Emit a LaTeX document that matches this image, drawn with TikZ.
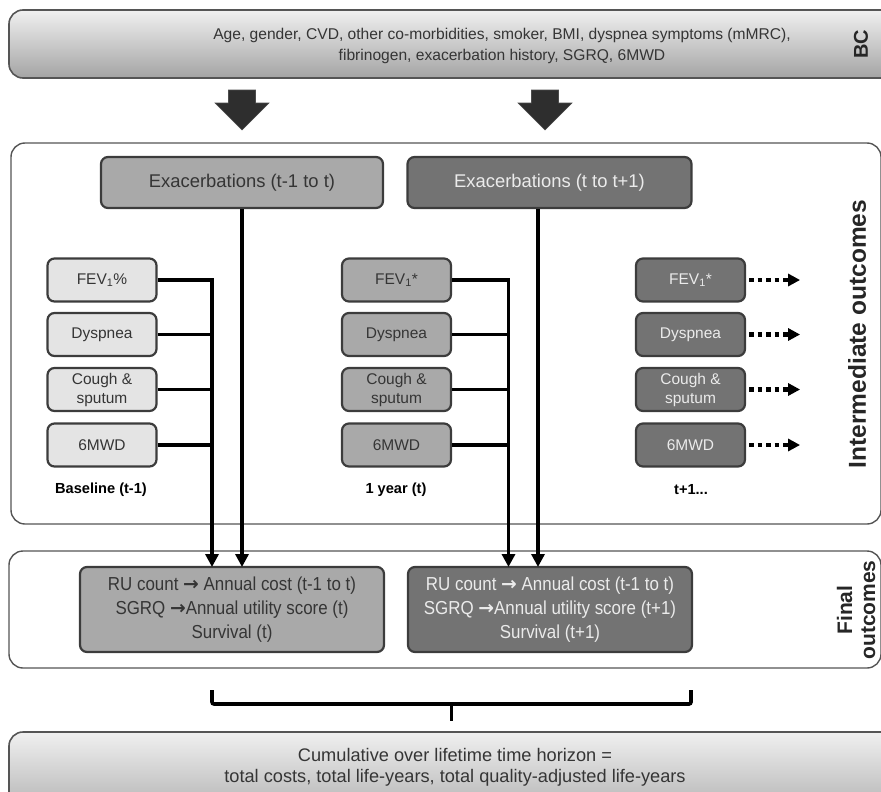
\documentclass[tikz,border=0pt]{standalone}
\usepackage{fontspec}
\setmainfont{Liberation Sans}
\newfontfamily\arrowfont{DejaVu Sans}
\newfontfamily\narrowf[FakeStretch=0.9]{Liberation Sans}
\usetikzlibrary{arrows.meta,calc}
\definecolor{lightbox}{HTML}{E4E4E4}
\definecolor{midbox}{HTML}{A9A9A9}
\definecolor{darkbox}{HTML}{737373}
\definecolor{edgec}{HTML}{3C3C3C}
\definecolor{txtc}{HTML}{353535}
\definecolor{framec}{HTML}{555555}
\definecolor{gradtop}{HTML}{F0F0F0}
\definecolor{gradbot}{HTML}{A4A4A4}
\definecolor{blockc}{HTML}{2E2E2E}
\newcommand{\bigarr}{{\arrowfont\bfseries →}}
\begin{document}
\begin{tikzpicture}[x=1pt,y=-1pt,
  frame/.style={draw=framec, line width=1.4pt, rounded corners=14pt, inner sep=0pt},
  gbox/.style={draw=framec, line width=1.6pt, rounded corners=14pt, inner sep=0pt, top color=gradtop, bottom color=gradbot},
  bx/.style={draw=edgec, line width=2.2pt, rounded corners=7pt, inner sep=0pt, align=center},
  small/.style={bx, minimum width=109pt, minimum height=43pt, font=\fontsize{15.5}{19}\selectfont},
  lightb/.style={fill=lightbox, text=txtc},
  midb/.style={fill=midbox, text=txtc},
  darkb/.style={fill=darkbox, text=white!92!black},
  conn/.style={line width=3.6pt, black},
  tip/.style={-{Triangle[width=13pt,length=13pt]}},
  dots/.style={line width=4.5pt, black, dash pattern=on 4.5pt off 4pt, -{Triangle[width=12pt,length=12pt]}},
  collab/.style={font=\bfseries\fontsize{14.6}{16}\selectfont, text=black},
  sidelab/.style={font=\bfseries\fontsize{24.5}{26}\selectfont, rotate=90, align=center, text=black!85},
  block/.style={fill=blockc, draw=black!70, line width=0.6pt},
  bracec/.style={line width=3.6pt, black, rounded corners=2pt},
  finaltext/.style={font=\narrowf\fontsize{18.8}{24}\selectfont}
]
\clip (0,0) rectangle (881,792);
\useasboundingbox (0,0) rectangle (881,792);

% top BC box
\node[gbox, minimum width=890pt, minimum height=68pt] (bc) at (454,44) {};
\node[align=center, text=txtc, font=\fontsize{15.6}{21}\selectfont] (bctext) at (502,46)
  {Age, gender, CVD, other co-morbidities, smoker, BMI, dyspnea symptoms (mMRC),\\
   fibrinogen, exacerbation history, SGRQ, 6MWD};
\node[font=\bfseries\fontsize{20}{22}\selectfont, rotate=90, text=black!85] (bclab) at (861,44) {BC};

% block arrows
\draw[block] (228.5,90) -- (255.5,90) -- (255.5,103) -- (269,103) -- (242,130) -- (215,103) -- (228.5,103) -- cycle;
\draw[block] (531.5,90) -- (558.5,90) -- (558.5,103) -- (572,103) -- (545,130) -- (518,103) -- (531.5,103) -- cycle;

% frames
\node[frame, minimum width=870pt, minimum height=381pt] (inter) at (446,333.5) {};
\node[frame, minimum width=872pt, minimum height=117pt] (final) at (445,609.5) {};
\node[gbox, minimum width=890pt, minimum height=100pt] (cum) at (454,782) {};

% exacerbation boxes
\node[bx, midb, minimum width=282pt, minimum height=51pt, font=\fontsize{18.4}{20}\selectfont] (e1) at (242,182.5) {Exacerbations (t-1 to t)};
\node[bx, darkb, minimum width=284pt, minimum height=51pt, font=\fontsize{18.4}{20}\selectfont] (e2) at (549.5,182.5) {Exacerbations (t to t+1)};

% column 1
\node[small, lightb] (a1) at (102,280) {FEV\textsubscript{1}\%};
\node[small, lightb] (a2) at (102,334.5) {Dyspnea};
\node[small, lightb] (a3) at (102,389.5) {Cough \&\\sputum};
\node[small, lightb] (a4) at (102,445) {6MWD};
% column 2
\node[small, midb] (b1) at (396.5,280) {FEV\textsubscript{1}*};
\node[small, midb] (b2) at (396.5,334.5) {Dyspnea};
\node[small, midb] (b3) at (396.5,389.5) {Cough \&\\sputum};
\node[small, midb] (b4) at (396.5,445) {6MWD};
% column 3
\node[small, darkb] (c1) at (690.5,280) {FEV\textsubscript{1}*};
\node[small, darkb] (c2) at (690.5,334.5) {Dyspnea};
\node[small, darkb] (c3) at (690.5,389.5) {Cough \&\\sputum};
\node[small, darkb] (c4) at (690.5,445) {6MWD};

% column labels
\node[collab] (l1) at (101,490) {Baseline (t-1)};
\node[collab] (l2) at (396,490) {1 year (t)};
\node[collab] (l3) at (691,490) {t+1...};

% side labels
\node[sidelab] (intlab) at (857,334) {Intermediate outcomes};
\node[sidelab, font=\bfseries\fontsize{21}{23}\selectfont] (finlab) at (856,610) {Final\\outcomes};

% final boxes
\node[bx, midb, finaltext, minimum width=304pt, minimum height=85pt] (f1) at (232,609.5)
  {RU count \bigarr{} Annual cost (t-1 to t)\\SGRQ \bigarr{}Annual utility score (t)\\Survival (t)};
\node[bx, darkb, finaltext, minimum width=284pt, minimum height=85pt] (f2) at (550,609.5)
  {RU count \bigarr{} Annual cost (t-1 to t)\\SGRQ \bigarr{}Annual utility score (t+1)\\Survival (t+1)};

% cumulative text
\node[align=center, text=txtc, font=\fontsize{18.2}{21}\selectfont] (cumtext) at (455,767)
  {Cumulative over lifetime time horizon =\\total costs, total life-years, total quality-adjusted life-years};

% connectors column 1
\coordinate (j1) at (212,567);
\draw[conn] (a2.east) -- (a2.east -| j1);
\draw[conn] (a3.east) -- (a3.east -| j1);
\draw[conn] (a4.east) -- (a4.east -| j1);
\draw[conn, tip] (a1.east) -| (j1);
\coordinate (k1) at (242,567);
\draw[conn, tip] (e1.south -| k1) -- (k1);
% connectors column 2
\coordinate (j2) at (508.5,567);
\draw[conn] (b2.east) -- (b2.east -| j2);
\draw[conn] (b3.east) -- (b3.east -| j2);
\draw[conn] (b4.east) -- (b4.east -| j2);
\draw[conn, tip] (b1.east) -| (j2);
\coordinate (k2) at (538,567);
\draw[conn, tip] (e2.south -| k2) -- (k2);
% dotted arrows
\foreach \n in {1,2,3,4}{
  \coordinate (d\n) at ($(c\n.east)+(54,0)$);
  \draw[dots] ($(c\n.east)+(3,0)$) -- (d\n);
}
% brace
\coordinate (br1) at (212,690);
\coordinate (br2) at (691,690);
\coordinate (brm) at (451.5,721);
\draw[bracec] (br1) -- (212,704) -- (691,704) -- (br2);
\draw[bracec] (451.5,704) -- (brm);
\end{tikzpicture}
\end{document}
